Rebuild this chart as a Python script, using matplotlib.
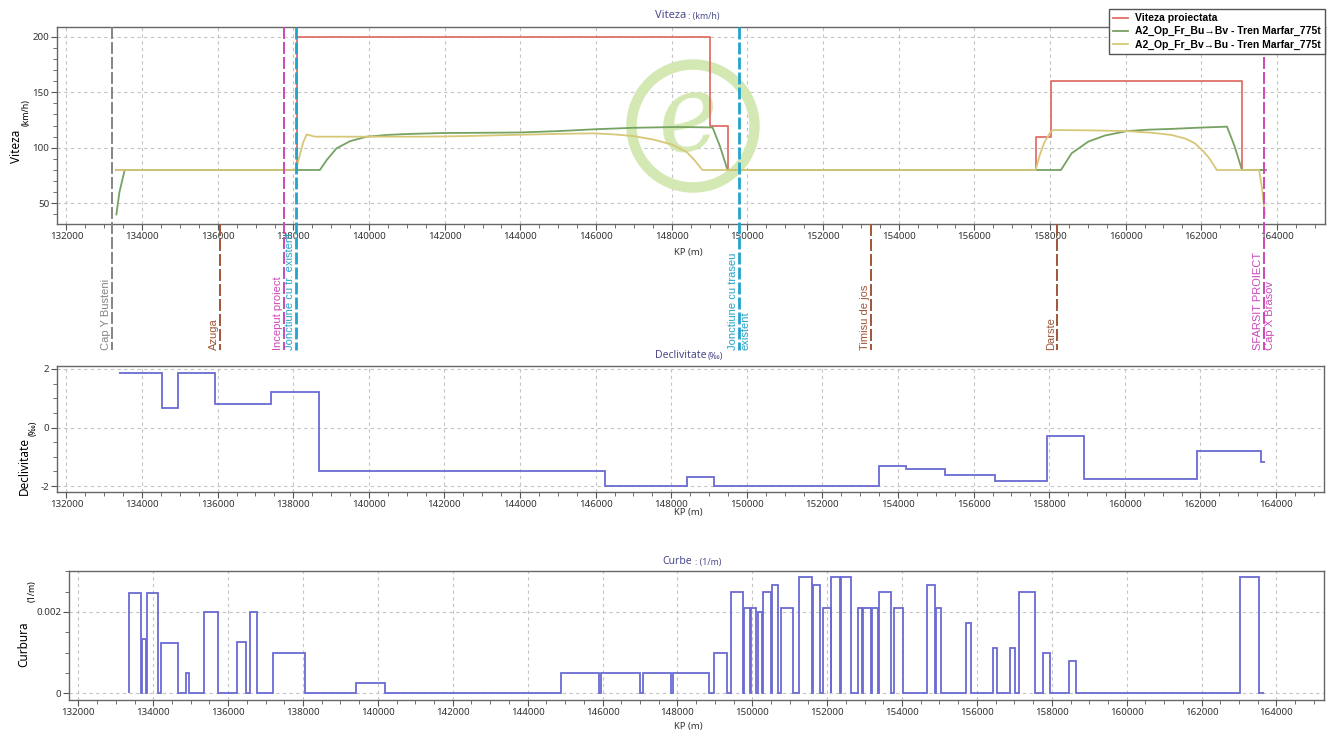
import matplotlib
matplotlib.use('Agg')
import matplotlib.pyplot as plt
import matplotlib.transforms as mtransforms
from matplotlib.patches import Circle
from matplotlib.ticker import MultipleLocator, FuncFormatter

plt.rcParams['font.family'] = ['Noto Sans', 'DejaVu Sans']
plt.rcParams['axes.unicode_minus'] = False

W, H = 1333, 733

# ---- speed profiles (km/h) ----
limit_km = [133320, 138100, 138100, 149015, 149015, 149475, 149475, 157620,
            157620, 158020, 158020, 163075, 163075, 163700]
limit_v = [80, 80, 200, 200, 120, 120, 80, 80, 110, 110, 160, 160, 80, 80]

bubv_km = [133320, 133400, 133540, 138700, 138880, 139140, 139500, 139940, 140500,
           141000, 141970, 143000, 144000, 145000, 145930, 147000, 148150, 149080,
           149280, 149475, 158290, 158570, 159010, 159450, 160030, 160600, 161220,
           162000, 162680, 162880, 163075, 163700]
bubv_v = [40, 60, 80, 80, 89, 99.5, 106, 110, 111.6,
          112.4, 113.3, 113.5, 113.8, 115, 116.6, 118, 118.7, 118.3,
          101, 80, 80, 95, 105.5, 111, 115, 116.3, 117,
          118.2, 119, 101.4, 80, 80]

bvbu_km = [133320, 138070, 138180, 138260, 138350, 138570, 141500, 142500, 143700,
           145000, 145930, 146500, 147000, 147500, 148000, 148400, 148600, 148810,
           157620, 157730, 157860, 158020, 158100, 159000, 160030, 160700, 161220,
           161600, 161830, 162050, 162190, 162320, 162410, 163530, 163610, 163680]
bvbu_v = [80, 80, 95, 105, 112, 110, 110, 110.5, 111.5,
          112.5, 113, 112, 110.5, 107.5, 103, 96, 89, 80,
          80, 93.5, 105.5, 114.5, 116, 115.7, 115, 113.5, 111.5,
          108, 104, 97, 91.5, 85, 80, 80, 62, 40]

# ---- stations ----
station_names = ['Cap Y Busteni', 'Azuga', 'Inceput proiect', 'Jonctiune cu tr. existent',
                 'Jonctiune cu traseu', 'Timisu de jos', 'Darste', 'SFARSIT PROIECT']
station_second = ['', '', '', '', 'existent', '', '', 'Cap X Brasov']
station_km = [133200, 136050, 137752, 138080, 149787, 153276, 158178, 163650]
station_colors = ['#858585', '#a0553a', '#cc48bb', '#22a4cc',
                  '#22a4cc', '#a0553a', '#a0553a', '#cc48bb']
station_in_top = [True, False, True, True, True, False, False, True]

# ---- declivity (per mille) ----
decl_edges = [133380, 134540, 134960, 135920, 137410, 138670, 146260, 148410, 149120,
              153490, 154200, 155240, 156570, 157930, 158920, 161920, 163600, 163700]
decl_vals = [1.85, 0.66, 1.85, 0.81, 1.22, -1.5, -2.0, -1.7, -2.0,
             -1.3, -1.4, -1.62, -1.81, -0.29, -1.74, -0.8, -1.17]

# ---- curvature (1/m) ----
curve_start = [133359, 133692, 133824, 134217, 134884, 135349, 136243, 136577, 137197,
               139426, 144896, 145969, 147089, 147876, 148966, 149433, 149778, 149967,
               150145, 150289, 150523, 150779, 151235, 151624, 151902, 152113, 152369,
               152814, 152970, 153192, 153382, 153782, 154661, 154905, 155706, 156429,
               156874, 157130, 157775, 158465, 163037]
curve_end = [133669, 133812, 134122, 134670, 134956, 135743, 136470, 136780, 138043,
             140200, 145897, 147006, 147816, 148832, 149321, 149755, 149944, 150111,
             150267, 150501, 150679, 151090, 151591, 151802, 152091, 152347, 152636,
             152937, 153170, 153348, 153704, 154016, 154872, 155039, 155851, 156541,
             157019, 157564, 157964, 158643, 163526]
curve_k = [0.00246, 0.00133, 0.00246, 0.00123, 0.0005, 0.002, 0.00125, 0.002, 0.001,
           0.00026, 0.0005, 0.0005, 0.0005, 0.0005, 0.001, 0.0025, 0.0021, 0.0021,
           0.002, 0.0025, 0.00266, 0.0021, 0.00285, 0.00266, 0.0021, 0.00285, 0.00285,
           0.0021, 0.0021, 0.0021, 0.0025, 0.0021, 0.00266, 0.0021, 0.00174, 0.0011,
           0.0011, 0.0025, 0.001, 0.0008, 0.00285]
curve_last = 163660

title_col = '#4a4a8c'
prof_col = '#6a6ad2'
label_font = ['Liberation Sans', 'DejaVu Sans']

fig = plt.figure(figsize=(W / 100, H / 100), dpi=100)


def add_ax(l, t, r, b):
    return fig.add_axes([l / W, 1 - b / H, (r - l) / W, (b - t) / H])


def style(ax, ymajor, yminor):
    ax.set_xlim(131750, 165270)
    ax.xaxis.set_major_locator(MultipleLocator(2000))
    ax.xaxis.set_minor_locator(MultipleLocator(500))
    ax.yaxis.set_major_locator(MultipleLocator(ymajor))
    ax.yaxis.set_minor_locator(MultipleLocator(yminor))
    ax.xaxis.set_major_formatter(FuncFormatter(lambda v, p: '%d' % v))
    ax.yaxis.set_major_formatter(FuncFormatter(lambda v, p: '%g' % round(v, 6)))
    ax.grid(True, which='major', color='#c4c4c4', linestyle=(0, (3, 3)), linewidth=0.8)
    ax.set_axisbelow(True)
    ax.tick_params(which='both', direction='out', colors='#555555',
                   labelsize=7, labelcolor='#333333', pad=1.5)
    ax.tick_params(which='major', length=4)
    ax.tick_params(which='minor', length=3)
    for s in ax.spines.values():
        s.set_color('#666666')
        s.set_linewidth(1)


def ftext(x, y, s, **kw):
    return fig.text(x / W, 1 - y / H, s, **kw)


# ================= speed =================
ax1 = add_ax(57, 27, 1325, 224)
style(ax1, 50, 10)
ax1.set_ylim(31.4, 208.7)

# watermark logo
ax1.add_patch(Circle((6.93, (H - 126) / 100), 0.615, transform=fig.dpi_scale_trans,
                     fill=False, lw=7.5, ec='#d3e8b2', zorder=1, clip_on=False))
ax1.text(6.88, (H - 120) / 100, 'e', transform=fig.dpi_scale_trans, fontsize=76,
         style='italic', family='DejaVu Serif', color='#d3e8b2',
         ha='center', va='center', zorder=1, rotation=8)

l1, = ax1.plot(limit_km, limit_v, color='#e07068', lw=1.3, zorder=2)
l2, = ax1.plot(bubv_km, bubv_v, color='#76a262', lw=1.3, zorder=3)
l3, = ax1.plot(bvbu_km, bvbu_v, color='#d6c878', lw=1.3, zorder=4)

blend = mtransforms.blended_transform_factory(ax1.transData, fig.transFigure)
for name, second, km, c, top in zip(station_names, station_second, station_km,
                                     station_colors, station_in_top):
    y0 = 1 - (27 if top else 224) / H
    lw = 2.0 if c == '#22a4cc' else 1.4
    ax1.plot([km, km], [y0, 1 - 350 / H], transform=blend, clip_on=False,
             color=c, lw=lw, dashes=(8.6 / lw, 2.2 / lw), zorder=6)
    tr = mtransforms.offset_copy(blend, fig=fig, x=-1, y=0, units='dots')
    ax1.text(km, 1 - 350 / H, name, transform=tr, rotation=90, rotation_mode='anchor',
             ha='left', va='bottom', color=c, fontsize=8.0, family=label_font)
    if second:
        tr2 = mtransforms.offset_copy(blend, fig=fig, x=1, y=0, units='dots')
        ax1.text(km, 1 - 350 / H, second, transform=tr2, rotation=90, rotation_mode='anchor',
                 ha='left', va='top', color=c, fontsize=8.0, family=label_font)

ftext(686, 15, 'Viteza', ha='right', va='center', fontsize=8, color=title_col)
ftext(688, 16, ': (km/h)', ha='left', va='center', fontsize=6.3, color=title_col)
ftext(17, 146, 'Viteza', rotation=90, ha='center', va='center', fontsize=8.5, weight='bold')
ftext(26, 113, '(km/h)', rotation=90, ha='center', va='center', fontsize=6.3)
ftext(688, 253, 'KP (m)', ha='center', va='center', fontsize=6.8, color='#333333')

fig.legend([l1, l2, l3],
           ['Viteza proiectata', 'A2_Op_Fr_Bu\u2192Bv - Tren Marfar_775t',
            'A2_Op_Fr_Bv\u2192Bu - Tren Marfar_775t'],
           loc='upper right', bbox_to_anchor=(1325 / W, 1 - 9 / H),
           prop={'weight': 'bold', 'size': 7.5, 'family': label_font},
           frameon=True, fancybox=False, edgecolor='#555555', framealpha=1,
           borderpad=0.4, handlelength=1.4, labelspacing=0.3, handletextpad=0.7,
           borderaxespad=0)

# ================= declivity =================
ax2 = add_ax(57, 366, 1324, 492)
style(ax2, 2, 0.5)
ax2.set_ylim(-2.2, 2.1)
ax2.stairs(decl_vals, decl_edges, baseline=None, color=prof_col, lw=1.3, zorder=3)
ftext(706, 356, 'Declivitate', ha='right', va='center', fontsize=7.5, color=title_col)
ftext(708, 357, '(\u2030)', ha='left', va='center', fontsize=6.3, color=title_col)
ftext(24, 466, 'Declivitate', rotation=90, ha='center', va='center', fontsize=8.5, weight='bold')
ftext(33, 428, '(\u2030)', rotation=90, ha='center', va='center', fontsize=6.3)
ftext(688, 512, 'KP (m)', ha='center', va='center', fontsize=6.8, color='#333333')

# ================= curvature =================
ax3 = add_ax(69, 571, 1324, 700)
style(ax3, 0.002, 0.0005)
ax3.set_ylim(-0.00017, 0.00301)
edges = [curve_start[0]]
vals = []
for s, e, k in zip(curve_start, curve_end, curve_k):
    if s > edges[-1]:
        vals.append(0)
        edges.append(s)
    vals.append(k)
    edges.append(e)
vals.append(0)
edges.append(curve_last)
ax3.stairs(vals, edges, baseline=0, color=prof_col, lw=1.3, zorder=3)
ftext(692, 562, 'Curbe', ha='right', va='center', fontsize=7.5, color=title_col)
ftext(695, 563, ': (1/m)', ha='left', va='center', fontsize=6.3, color=title_col)
ftext(24, 644, 'Curbura', rotation=90, ha='center', va='center', fontsize=8.5, weight='bold')
ftext(32, 591, '(1/m)', rotation=90, ha='center', va='center', fontsize=6.3)
ftext(688, 726, 'KP (m)', ha='center', va='center', fontsize=6.8, color='#333333')

fig.savefig('out.png', dpi=100, facecolor='white')
